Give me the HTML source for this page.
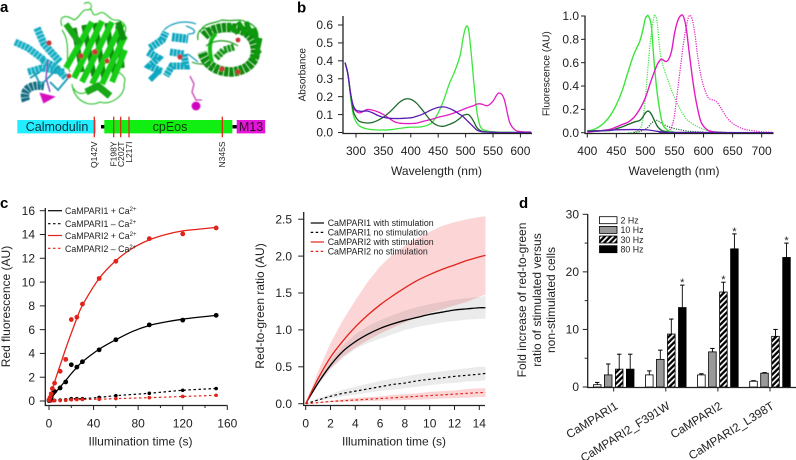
<!DOCTYPE html>
<html lang="en">
<head>
<meta charset="utf-8">
<title>CaMPARI2 figure</title>
<style>
html,body{margin:0;padding:0;background:#fff;}
svg{display:block;font-family:"Liberation Sans",sans-serif;filter:blur(0.3px);}
text{fill:#222;}
</style>
</head>
<body>
<svg id="figure" xmlns="http://www.w3.org/2000/svg" width="796" height="460" viewBox="0 0 796 460">
<defs>
<filter id="soft" x="-5%" y="-5%" width="110%" height="110%"><feGaussianBlur stdDeviation="0.5"/></filter>
<pattern id="hatch" patternUnits="userSpaceOnUse" width="4" height="4" patternTransform="rotate(45)">
<rect width="4" height="4" fill="#000"/><rect width="1.7" height="4" fill="#fff"/>
</pattern>
</defs>
<rect width="796" height="460" fill="#fff"/>

<text x="0" y="12" font-size="15" font-weight="bold" style="fill:#000">a</text>
<text x="297" y="12.5" font-size="15" font-weight="bold" style="fill:#000">b</text>
<text x="0" y="208" font-size="15" font-weight="bold" style="fill:#000">c</text>
<text x="519" y="208" font-size="15" font-weight="bold" style="fill:#000">d</text>

<g filter="url(#soft)" fill="none" stroke-linecap="butt">
<path d="M62 26C58 16 66 14 74 20C80 18 82 8 88 10C94 6 90 18 98 14C106 8 108 22 118 20C128 24 128 32 120 38M62 30C72 44 64 60 70 72M72 84C74 100 88 108 100 102C112 106 126 94 124 84C128 76 118 72 114 70M96 84C88 94 78 98 72 86M84 4C88 0 94 4 90 10" stroke="#28c028" stroke-width="1.1"/>
<path d="M74 28L82 72M84 25L94 76M95 23L104 78M107 23L115 76M118 26L122 68" stroke="#0a8a0a" stroke-width="5.4"/>
<path d="M92 22L66 68M102 21L74 78M112 22L82 82M122 24L92 84M125 36L102 84M125 50L112 82" stroke="#16cc16" stroke-width="6"/>
<path d="M66 24L80 44" stroke="#12a812" stroke-width="6"/>
<path d="M118 22L124 40" stroke="#0d8f0d" stroke-width="6"/>
<path d="M86 92L98 86L110 96" stroke="#14a814" stroke-width="7"/>
<path d="M37 28L44 44L60 62" stroke="#12aec4" stroke-width="7.5" stroke-dasharray="3.2 0.6"/>
<path d="M15 42L28 48L44 60" stroke="#12aec4" stroke-width="7" stroke-dasharray="3.2 0.6"/>
<path d="M28 72L42 68L64 72" stroke="#12aec4" stroke-width="7" stroke-dasharray="3.2 0.6"/>
<path d="M42 60L54 66L66 78" stroke="#12aec4" stroke-width="7" stroke-dasharray="3.2 0.6"/>
<path d="M26 101C22 90 30 84 44 86" stroke="#156e82" stroke-width="8.5" stroke-dasharray="3.2 0.7"/>
<path d="M34 72L42 88M50 82L58 90L68 78M42 84L60 66M30 78L40 72" stroke="#149cb4" stroke-width="1.8"/>
<path d="M48 60L46 78L50 92" stroke="#7a4ac0" stroke-width="1.4"/>
<path d="M41 94L53 97L44 102Z" fill="#d80cc0" stroke="#d80cc0" stroke-width="2"/>
<circle cx="49" cy="43" r="2.6" fill="#c83838"/><circle cx="81" cy="56" r="2.6" fill="#c83838"/><circle cx="95" cy="52" r="2.9" fill="#c83838"/><circle cx="107" cy="61" r="2.5" fill="#c83838"/><circle cx="69" cy="76" r="2.4" fill="#c83838"/>
</g>

<g filter="url(#soft)" fill="none">
<path d="M200 32C204 22 214 24 222 20C232 22 240 18 246 22C254 24 258 30 258 36M198 40C196 28 206 26 212 30" stroke="#18a018" stroke-width="1.2"/>
<path d="M204 36C216 24 244 24 253 40C260 56 252 70 232 72C218 72 206 66 202 52" stroke="#0c8a0c" stroke-width="9.5" stroke-dasharray="4.2 0.8"/>
<path d="M228 25L238 33M238 22L246 34M246 22L252 36M254 28L257 42M260 38L257 52M260 50L252 60" stroke="#0e980e" stroke-width="5"/>
<path d="M212 62C208 48 210 38 216 34" stroke="#18ba18" stroke-width="4"/>
<path d="M216 58L224 50L234 47" stroke="#129412" stroke-width="7" stroke-dasharray="3 0.8"/>
<path d="M192 62C200 66 204 62 210 66L224 70M206 46C214 40 226 38 238 46" stroke="#1a9a1a" stroke-width="1.2"/>
<path d="M150 48L162 40L166 32" stroke="#10a8c0" stroke-width="7.5" stroke-dasharray="3 0.6"/>
<path d="M172 37L188 39" stroke="#10a8c0" stroke-width="8.5" stroke-dasharray="3 0.6"/>
<path d="M148 52L158 58L150 66L162 72" stroke="#10a8c0" stroke-width="7.5" stroke-dasharray="3 0.6"/>
<path d="M170 52L184 54L186 66L172 66L166 76" stroke="#10a8c0" stroke-width="7" stroke-dasharray="3 0.6"/>
<path d="M150 80L160 70" stroke="#10a8c0" stroke-width="5.5"/>
<path d="M164 30C172 22 186 20 196 24M186 26C198 30 196 34 188 34M188 54L198 62" stroke="#149cb8" stroke-width="1.2"/>
<path d="M190 76L194 84L192 92L196 100L202 100" stroke="#c83cb8" stroke-width="1.3"/>
<circle cx="196" cy="106" r="4.4" fill="#d000c0"/>
<circle cx="238" cy="40" r="2.4" fill="#c83838"/><circle cx="180" cy="57" r="2.6" fill="#c83838"/><circle cx="222" cy="69" r="2.5" fill="#c83838"/><circle cx="238" cy="72" r="2.5" fill="#c83838"/>
</g>

<g>
<rect x="17.3" y="120" width="78.5" height="13.4" fill="#22eeff"/>
<rect x="101" y="125" width="4" height="3.5" fill="#000"/>
<rect x="104.3" y="120" width="128" height="13.4" fill="#11ee11"/>
<rect x="232.5" y="125" width="4.5" height="3.5" fill="#000"/>
<rect x="236.7" y="120" width="28.5" height="13.4" fill="#e414d8"/>
<text x="57" y="131" font-size="12.5" text-anchor="middle" style="fill:#0b3038">Calmodulin</text>
<text x="170" y="131" font-size="12.5" text-anchor="middle" style="fill:#0b3a0b">cpEos</text>
<text x="251" y="131" font-size="12.5" text-anchor="middle" style="fill:#30082c">M13</text>
<g stroke="#e0281e" stroke-width="1.3">
<line x1="94.3" x2="94.3" y1="116.7" y2="137.3"/>
<line x1="113.7" x2="113.7" y1="116.7" y2="137.3"/>
<line x1="120.7" x2="120.7" y1="116.7" y2="137.3"/>
<line x1="129" x2="129" y1="116.7" y2="137.3"/>
<line x1="222.3" x2="222.3" y1="116.7" y2="137.3"/>
</g>
<g font-size="8.5" text-anchor="end">
<text transform="translate(97.2,141.5) rotate(-90)">Q142V</text>
<text transform="translate(116.6,141.5) rotate(-90)">F198Y</text>
<text transform="translate(123.8,141.5) rotate(-90)">C202T</text>
<text transform="translate(132,141.5) rotate(-90)">L217I</text>
<text transform="translate(225.2,141.5) rotate(-90)">N345S</text>
</g>
</g>

<g id="absorbance-chart">
<text transform="translate(305.5,74.7) rotate(-90)" font-size="10" text-anchor="middle">Absorbance</text>
<text x="436.5" y="175" font-size="12" text-anchor="middle">Wavelength (nm)</text>
</g>
<g id="fluorescence-chart">
<text transform="translate(549.5,73.7) rotate(-90)" font-size="10.2" text-anchor="middle">Fluorescence (AU)</text>
<text x="674" y="175" font-size="12" text-anchor="middle">Wavelength (nm)</text>
</g>

<g id="red-chart">
<text transform="translate(10,306.5) rotate(-90)" font-size="12" text-anchor="middle">Red fluorescence (AU)</text>
<text x="140.5" y="445.5" font-size="12" text-anchor="middle">Illumination time (s)</text>
</g>
<g font-size="8.8">
<line x1="48" x2="62" y1="210.7" y2="210.7" stroke="#000" stroke-width="1.2"/>
<text x="65" y="214">CaMPARI1 + Ca<tspan font-size="6" dy="-3">2+</tspan></text>
<line x1="48" x2="62" y1="223.7" y2="223.7" stroke="#000" stroke-width="1.2" stroke-dasharray="2.5 2.5"/>
<text x="65" y="227">CaMPARI1 – Ca<tspan font-size="6" dy="-3">2+</tspan></text>
<line x1="48" x2="62" y1="235.5" y2="235.5" stroke="#e2231a" stroke-width="1.2"/>
<text x="65" y="239">CaMPARI2 + Ca<tspan font-size="6" dy="-3">2+</tspan></text>
<line x1="48" x2="62" y1="248.3" y2="248.3" stroke="#e2231a" stroke-width="1.2" stroke-dasharray="2.5 2.5"/>
<text x="65" y="252">CaMPARI2 – Ca<tspan font-size="6" dy="-3">2+</tspan></text>
</g>

<g id="ratio-chart">
<text transform="translate(264,306) rotate(-90)" font-size="12" text-anchor="middle">Red-to-green ratio (AU)</text>
<text x="394" y="445.5" font-size="12" text-anchor="middle">Illumination time (s)</text>
</g>
<g id="ratio-legend" font-size="8.8">
<line x1="310.7" x2="324" y1="223" y2="223" stroke="#000" stroke-width="1.2"/>
<text x="327.7" y="226">CaMPARI1 with stimulation</text>
<line x1="310.7" x2="324" y1="232.4" y2="232.4" stroke="#000" stroke-width="1.2" stroke-dasharray="2.5 2.5"/>
<text x="327.7" y="235.4">CaMPARI1 no stimulation</text>
<line x1="310.7" x2="324" y1="242" y2="242" stroke="#e2231a" stroke-width="1.2"/>
<text x="327.7" y="245">CaMPARI2 with stimulation</text>
<line x1="310.7" x2="324" y1="251.4" y2="251.4" stroke="#e2231a" stroke-width="1.2" stroke-dasharray="2.5 2.5"/>
<text x="327.7" y="254.4">CaMPARI2 no stimulation</text>
</g>

<g id="bar-chart">
<g font-size="12" text-anchor="middle">
<text transform="translate(526,300) rotate(-90)">Fold increase of red-to-green</text>
<text transform="translate(541,300) rotate(-90)">ratio of stimulated versus</text>
<text transform="translate(555,300) rotate(-90)">non-stimulated cells</text>
</g>
</g>
<g font-size="8.8">
<rect x="599.5" y="216.7" width="17.5" height="7" fill="#fff" stroke="#000" stroke-width="0.8"/>
<text x="620.5" y="223.5">2 Hz</text>
<rect x="599.5" y="226.4" width="17.5" height="7" fill="#999" stroke="#000" stroke-width="0.8"/>
<text x="620.5" y="233.2">10 Hz</text>
<rect x="599.5" y="236" width="17.5" height="7" fill="url(#hatch)" stroke="#000" stroke-width="0.8"/>
<text x="620.5" y="242.8">30 Hz</text>
<rect x="599.5" y="245.7" width="17.5" height="7" fill="#000" stroke="#000" stroke-width="0.8"/>
<text x="620.5" y="252.5">80 Hz</text>
</g>

<script>
/* ---------- Panel b, absorbance ---------- */
const absTickLabelsX = ['300','350','400','450','500','550','600'];
const absTickValuesX = [300,350,400,450,500,550,600];
const absTickLabelsY = ['0.0','0.1','0.2','0.3','0.4','0.5','0.6'];
const absTickValuesY = [0,0.1,0.2,0.3,0.4,0.5,0.6];
const absWavelengths = [280,285,290,295,300,305,310,320,330,340,350,360,370,380,390,400,410,420,430,440,450,460,470,480,490,495,500,505,510,515,520,525,530,540,550,560,570,580,590,600,620];
const absBrightGreen = [.39,.33,.2,.1,.06,.04,.03,.02,.016,.014,.014,.015,.018,.023,.027,.03,.03,.032,.04,.06,.11,.18,.27,.34,.43,.52,.585,.58,.45,.28,.13,.05,.02,.008,.004,.002,.001,.001,0,0,0];
const absDarkGreen = [.39,.33,.22,.12,.085,.065,.058,.053,.056,.068,.085,.11,.14,.17,.187,.185,.165,.13,.09,.055,.038,.035,.045,.058,.08,.095,.1,.1,.085,.06,.03,.015,.007,.003,.001,0,0,0,0,0,0];
const absMagenta = [.39,.33,.22,.14,.12,.11,.112,.128,.125,.115,.1,.08,.06,.052,.05,.05,.052,.06,.068,.075,.085,.092,.1,.11,.122,.128,.135,.14,.145,.15,.158,.16,.158,.15,.175,.22,.19,.06,.015,.005,.002];
const absPurple = [.39,.33,.22,.15,.125,.12,.118,.12,.11,.095,.085,.08,.078,.078,.08,.082,.09,.1,.115,.13,.14,.143,.135,.12,.1,.09,.075,.06,.045,.03,.015,.008,.004,.002,.001,0,0,0,0,0,0];

/* ---------- Panel b, emission ---------- */
const fluTickLabelsX = ['400','450','500','550','600','650','700'];
const fluTickValuesX = [400,450,500,550,600,650,700];
const fluTickLabelsY = ['0.0','0.2','0.4','0.6','0.8','1.0'];
const fluTickValuesY = [0,0.2,0.4,0.6,0.8,1];
const greenSolidX = [400,410,420,430,440,450,460,470,480,490,495,500,503,505,510,515,520,525,530,535,540,550];
const greenSolidY = [.015,.025,.05,.09,.15,.24,.36,.52,.67,.78,.87,.98,1,1,.92,.6,.35,.18,.07,.035,.015,.005];
const greenDotX = [470,480,490,495,500,505,510,515,517,520,525,530,540,550,560,570,580,590,600,610,620,640];
const greenDotY = [0,.004,.03,.1,.3,.6,.85,1,1,.95,.7,.58,.43,.3,.2,.12,.08,.05,.03,.015,.01,.003];
const magentaSolidX = [400,420,440,450,460,470,480,490,500,510,520,525,528,535,540,545,550,555,560,565,570,575,580,585,590,595,600,605,610,620,640];
const magentaSolidY = [.005,.015,.03,.05,.07,.09,.13,.2,.3,.45,.58,.62,.63,.61,.63,.7,.85,.95,1,1,.9,.7,.5,.33,.2,.1,.055,.03,.015,.005,0];
const magentaDotX = [530,540,545,550,555,560,565,570,575,580,585,590,595,600,605,610,620,625,630,640,650,660,670,680,700,720];
const magentaDotY = [.005,.02,.05,.15,.35,.55,.75,.9,1,.98,.85,.65,.5,.4,.33,.29,.275,.25,.21,.13,.08,.05,.03,.02,.008,.003];
const darkSolidX = [400,440,450,460,470,480,490,495,500,505,510,515,520,525,530,540];
const darkSolidY = [.015,.02,.035,.05,.07,.09,.105,.13,.17,.185,.16,.11,.06,.03,.015,.005];
const darkDotX = [480,490,500,505,510,515,520,525,530,540,550,560,570,580,600];
const darkDotY = [.002,.01,.03,.05,.08,.1,.105,.09,.075,.05,.035,.025,.015,.01,.005];
const purpleSolidX = [400,420,440,460,480,500,510,520,530,540,720];
const purpleSolidY = [.01,.015,.022,.026,.027,.025,.02,.012,.006,.003,0];

/* ---------- Panel c, red fluorescence ---------- */
const redTickValuesX = [0,40,80,120,160];
const redTickLabelsX = ['0','40','80','120','160'];
const redMinorX = [20,60,100,140];
const redTickValuesY = [0,2,4,6,8,10,12,14,16];
const redTickLabelsY = ['0','2','4','6','8','10','12','14','16'];
const redTimes = [0,1,2,3,5,10,15,20,25,30,45,60,90,120,150];
const campari1Ca = [.05,.15,.3,.6,.8,1.1,1.6,3.05,2.85,3.3,4.3,5.15,6.4,6.8,7.2];
const campari1NoCa = [0,.02,.03,.04,.05,.08,.1,.2,.2,.2,.3,.45,.65,.9,1.05];
const campari2Ca = [.1,.3,.6,1.05,1.5,2.5,3.5,6.85,7.05,8.15,10.3,11.75,13.65,14.05,14.55];
const campari2NoCa = [0,0,.01,.02,.03,.04,.06,.1,.12,.13,.15,.2,.28,.38,.48];
const fitTimes = [0,5,10,15,20,25,30,45,60,75,90,105,120,135,150];
const fitCampari1 = [0,.6,1.18,1.72,2.3,2.82,3.3,4.35,5.15,5.85,6.35,6.65,6.88,7.05,7.2];
const fitCampari2 = [0,1.6,3,4.4,5.7,6.95,8.05,10.3,11.8,12.85,13.55,14,14.3,14.45,14.6];

/* ---------- Panel c, ratio ---------- */
const ratTickValuesX = [0,2,4,6,8,10,12,14];
const ratTickLabelsX = ['0','2','4','6','8','10','12','14'];
const ratTickValuesY = [0,.5,1,1.5,2,2.5];
const ratTickLabelsY = ['0.0','0.5','1.0','1.5','2.0','2.5'];
const ratTimes = [0,1,2,3,4,5,6,7,8,9,10,11,12,13,14,14.5];
const stim1Mean = [0,.28,.52,.71,.84,.94,1.02,1.08,1.13,1.17,1.21,1.24,1.27,1.285,1.3,1.3];
const stim1Upper = [0,.32,.59,.79,.94,1.05,1.13,1.2,1.26,1.31,1.35,1.38,1.41,1.43,1.45,1.46];
const stim1Lower = [0,.25,.46,.62,.74,.82,.88,.94,1,1.04,1.07,1.1,1.12,1.14,1.15,1.15];
const stim2Mean = [0,.34,.63,.85,1.04,1.2,1.34,1.46,1.57,1.67,1.75,1.82,1.88,1.94,1.99,2.01];
const stim2Upper = [0,.44,.82,1.13,1.4,1.65,1.86,2.02,2.14,2.24,2.33,2.41,2.46,2.5,2.53,2.54];
const stim2Lower = [0,.27,.48,.64,.76,.86,.95,1.03,1.1,1.17,1.23,1.28,1.33,1.38,1.45,1.48];
const noStim1Mean = [0,.05,.1,.14,.17,.2,.23,.26,.28,.31,.33,.35,.37,.385,.4,.41];
const noStim1Upper = [0,.07,.13,.19,.23,.27,.31,.34,.37,.4,.42,.44,.46,.48,.5,.5];
const noStim1Lower = [0,.04,.07,.1,.12,.15,.17,.19,.21,.23,.25,.27,.28,.3,.31,.32];
const noStim2Mean = [0,.015,.03,.04,.05,.06,.07,.08,.09,.1,.11,.12,.13,.14,.15,.15];
const noStim2Upper = [0,.02,.04,.06,.08,.09,.1,.12,.13,.14,.16,.17,.18,.2,.21,.21];
const noStim2Lower = [0,.01,.02,.025,.03,.035,.04,.045,.05,.055,.06,.07,.075,.08,.09,.09];

/* ---------- Panel d, bars ---------- */
const barCategories = ['CaMPARI1','CaMPARI2_F391W','CaMPARI2','CaMPARI2_L398T'];
const barTickValuesY = [0,10,20,30];
const barTickLabelsY = ['0','10','20','30'];
const barMinorY = [5,15,25];
const hz2 = [.4,2.1,2.1,1];
const hz10 = [2.1,4.8,6.1,2.4];
const hz30 = [3.1,9.2,16.5,8.8];
const hz80 = [3.1,13.8,24,22.5];
const hz2Top = [.8,2.8,2.3,1.1];
const hz10Top = [4,6.4,6.7,2.5];
const hz30Top = [5.7,11.8,18.2,10];
const hz80Top = [5.7,17.7,26.6,25];
const hz30Star = [false,false,true,false];
const hz80Star = [false,true,true,true];

/* ---------- Helpers ---------- */
const NS = 'http://www.w3.org/2000/svg';
const INK = '#222';
function make(tag, attrs, parent) {
  const el = document.createElementNS(NS, tag);
  for (const k in attrs) el.setAttribute(k, attrs[k]);
  parent.appendChild(el);
  return el;
}
function linear(d0, d1, r0, r1) { return v => r0 + (v - d0) * (r1 - r0) / (d1 - d0); }
function smoothPath(pts) {
  let d = 'M' + pts[0][0].toFixed(2) + ' ' + pts[0][1].toFixed(2);
  for (let i = 0; i < pts.length - 1; i++) {
    const p0 = pts[Math.max(i - 1, 0)], p1 = pts[i], p2 = pts[i + 1], p3 = pts[Math.min(i + 2, pts.length - 1)];
    d += 'C' + (p1[0] + (p2[0] - p0[0]) / 6).toFixed(2) + ' ' + (p1[1] + (p2[1] - p0[1]) / 6).toFixed(2) + ' ' +
      (p2[0] - (p3[0] - p1[0]) / 6).toFixed(2) + ' ' + (p2[1] - (p3[1] - p1[1]) / 6).toFixed(2) + ' ' +
      p2[0].toFixed(2) + ' ' + p2[1].toFixed(2);
  }
  return d;
}
function curve(parent, name, xs, ys, xf, yf, color, width, dash) {
  const pts = xs.map((x, i) => [xf(x), yf(ys[i])]);
  const p = make('path', {d: smoothPath(pts), fill: 'none', stroke: color, 'stroke-width': width, 'stroke-dasharray': dash || 'none'}, parent);
  
  
  return p;
}
function band(parent, name, xs, up, low, xf, yf, fill) {
  const top = xs.map((x, i) => xf(x).toFixed(2) + ' ' + yf(up[i]).toFixed(2));
  const bot = xs.map((x, i) => xf(x).toFixed(2) + ' ' + yf(low[i]).toFixed(2)).reverse();
  const p = make('path', {d: 'M' + top.join('L') + 'L' + bot.join('L') + 'Z', fill: fill, stroke: 'none'}, parent);
  
  
}
function dots(parent, name, xs, ys, xf, yf, color, r) {
  xs.forEach((x, i) => {
    const c = make('circle', {cx: xf(x), cy: yf(ys[i]), r: r, fill: color}, parent);
    
    
  });
}
function axisLine(parent, name, x1, y1, x2, y2) {
  const l = make('line', {x1, y1, x2, y2, stroke: INK, 'stroke-width': 1.3}, parent);
  
  
}
function xTicks(parent, prefix, values, labels, xf, axisY, len, labelY) {
  values.forEach((v, i) => {
    const t = make('line', {x1: xf(v), x2: xf(v), y1: axisY, y2: axisY + len, stroke: INK, 'stroke-width': 1}, parent);
    
    
    if (labels) {
      const s = make('text', {x: xf(v), y: labelY, 'font-size': 12, 'text-anchor': 'middle'}, parent);
      s.textContent = labels[i];
      
      
    }
  });
}
function yTicks(parent, prefix, values, labels, yf, axisX, len, labelX) {
  values.forEach((v, i) => {
    const t = make('line', {x1: axisX - len, x2: axisX, y1: yf(v), y2: yf(v), stroke: INK, 'stroke-width': 1}, parent);
    
    
    if (labels) {
      const s = make('text', {x: labelX, y: yf(v) + 4.2, 'font-size': 12, 'text-anchor': 'end'}, parent);
      s.textContent = labels[i];
      
      
    }
  });
}

const BRIGHT = '#3be63b', DARK = '#1c6a2c', MAG = '#e21cc4', PURPLE = '#5a1cb4', RED = '#e2231a';

/* Absorbance */
const absX = linear(300, 600, 356, 520.4);
const absY = linear(0, .6, 132.5, 25);
const gAbs = document.getElementById('absorbance-chart');
curve(gAbs, 'absorbance-curve-bright-green', absWavelengths, absBrightGreen, absX, absY, BRIGHT, 1.3);
curve(gAbs, 'absorbance-curve-magenta', absWavelengths, absMagenta, absX, absY, MAG, 1.3);
curve(gAbs, 'absorbance-curve-dark-green', absWavelengths, absDarkGreen, absX, absY, DARK, 1.3);
curve(gAbs, 'absorbance-curve-purple', absWavelengths, absPurple, absX, absY, PURPLE, 1.3);
axisLine(gAbs, 'absorbance-y-axis', 343, 16, 343, 133.5);
axisLine(gAbs, 'absorbance-x-axis', 342.4, 133.5, 532, 133.5);
xTicks(gAbs, 'absorbance', absTickValuesX, absTickLabelsX, absX, 133.5, 4, 155);
yTicks(gAbs, 'absorbance', absTickValuesY, absTickLabelsY, absY, 343, 5, 333);

/* Emission */
const fluX = linear(400, 700, 587.3, 761.7);
const fluY = linear(0, 1, 132.7, 16);
const gFlu = document.getElementById('fluorescence-chart');
curve(gFlu, 'emission-green-dotted', greenDotX, greenDotY, fluX, fluY, BRIGHT, 1.2, '1.2 1.2');
curve(gFlu, 'emission-magenta-dotted', magentaDotX, magentaDotY, fluX, fluY, MAG, 1.2, '1.2 1.2');
curve(gFlu, 'emission-dark-green-dotted', darkDotX, darkDotY, fluX, fluY, DARK, 1.2, '1.2 1.2');
curve(gFlu, 'emission-green-solid', greenSolidX, greenSolidY, fluX, fluY, BRIGHT, 1.4);
curve(gFlu, 'emission-magenta-solid', magentaSolidX, magentaSolidY, fluX, fluY, MAG, 1.4);
curve(gFlu, 'emission-dark-green-solid', darkSolidX, darkSolidY, fluX, fluY, DARK, 1.4);
curve(gFlu, 'emission-purple-solid', purpleSolidX, purpleSolidY, fluX, fluY, PURPLE, 1.3);
axisLine(gFlu, 'emission-y-axis', 585, 15.5, 585, 133.5);
axisLine(gFlu, 'emission-x-axis', 584.4, 133.5, 773.5, 133.5);
xTicks(gFlu, 'emission', fluTickValuesX, fluTickLabelsX, fluX, 133.5, 4, 155);
yTicks(gFlu, 'emission', fluTickValuesY, fluTickLabelsY, fluY, 585, 4, 579);

/* Red fluorescence */
const redX = linear(0, 160, 49, 227.3);
const redY = linear(0, 16, 401, 210.7);
const gRed = document.getElementById('red-chart');
curve(gRed, 'campari1-noca-line', redTimes, campari1NoCa, redX, redY, '#000', 1.2, '2.5 2.5');
curve(gRed, 'campari2-noca-line', redTimes, campari2NoCa, redX, redY, RED, 1.2, '2.5 2.5');
curve(gRed, 'campari1-ca-fit', fitTimes, fitCampari1, redX, redY, '#000', 1.3);
curve(gRed, 'campari2-ca-fit', fitTimes, fitCampari2, redX, redY, RED, 1.3);
dots(gRed, 'campari1-noca-point', redTimes, campari1NoCa, redX, redY, '#000', 1.8);
dots(gRed, 'campari2-noca-point', redTimes, campari2NoCa, redX, redY, RED, 1.8);
dots(gRed, 'campari1-ca-point', redTimes, campari1Ca, redX, redY, '#000', 2.4);
dots(gRed, 'campari2-ca-point', redTimes, campari2Ca, redX, redY, RED, 2.4);
axisLine(gRed, 'red-fluorescence-y-axis', 45.3, 208, 45.3, 405.5);
axisLine(gRed, 'red-fluorescence-x-axis', 44.7, 405.5, 227.5, 405.5);
xTicks(gRed, 'red-fluorescence', redTickValuesX, redTickLabelsX, redX, 405.5, 4.5, 427.5);
xTicks(gRed, 'red-fluorescence-minor', redMinorX, null, redX, 405.5, 2.5, 0);
yTicks(gRed, 'red-fluorescence', redTickValuesY, redTickLabelsY, redY, 45.3, 5.5, 35);

/* Ratio */
const ratX = linear(0, 14, 305.7, 479.3);
const ratY = linear(0, 2.5, 403.7, 219.2);
const gRat = document.getElementById('ratio-chart');
const PINK = 'rgba(237,28,36,.18)', GREY = 'rgba(0,0,0,.08)';
band(gRat, 'campari2-stim-error-band', ratTimes, stim2Upper, stim2Lower, ratX, ratY, PINK);
band(gRat, 'campari1-stim-error-band', ratTimes, stim1Upper, stim1Lower, ratX, ratY, GREY);
band(gRat, 'campari1-nostim-error-band', ratTimes, noStim1Upper, noStim1Lower, ratX, ratY, GREY);
band(gRat, 'campari2-nostim-error-band', ratTimes, noStim2Upper, noStim2Lower, ratX, ratY, PINK);
curve(gRat, 'campari1-nostim-line', ratTimes, noStim1Mean, ratX, ratY, '#000', 1.2, '2.5 2.5');
curve(gRat, 'campari2-nostim-line', ratTimes, noStim2Mean, ratX, ratY, RED, 1.2, '2.5 2.5');
curve(gRat, 'campari1-stim-line', ratTimes, stim1Mean, ratX, ratY, '#000', 1.3);
curve(gRat, 'campari2-stim-line', ratTimes, stim2Mean, ratX, ratY, RED, 1.3);
axisLine(gRat, 'ratio-y-axis', 303.7, 212, 303.7, 405.5);
axisLine(gRat, 'ratio-x-axis', 303.1, 405.5, 485, 405.5);
xTicks(gRat, 'ratio', ratTickValuesX, ratTickLabelsX, ratX, 405.5, 4.5, 427.5);
yTicks(gRat, 'ratio', ratTickValuesY, ratTickLabelsY, ratY, 303.7, 5.5, 292);

/* Bars */
const barY = linear(0, 30, 387, 214.3);
const groupX = linear(0, 3, 613.7, 770);
const slot = linear(0, 3, -16.5, 16.5);
const gBar = document.getElementById('bar-chart');
const barSeries = [
  {name: '2hz', vals: hz2, tops: hz2Top, fill: '#fff', stars: null},
  {name: '10hz', vals: hz10, tops: hz10Top, fill: '#999', stars: null},
  {name: '30hz', vals: hz30, tops: hz30Top, fill: 'url(#hatch)', stars: hz30Star},
  {name: '80hz', vals: hz80, tops: hz80Top, fill: '#000', stars: hz80Star}
];
const BAR_W = 7.6;
barSeries.forEach((s, j) => {
  s.vals.forEach((v, i) => {
    const cx = groupX(i) + slot(j);
    const err = make('line', {x1: cx, x2: cx, y1: barY(v), y2: barY(s.tops[i]), stroke: '#000', 'stroke-width': 0.9}, gBar);
    
    
    const cap = make('line', {x1: cx - 2.2, x2: cx + 2.2, y1: barY(s.tops[i]), y2: barY(s.tops[i]), stroke: '#000', 'stroke-width': 1}, gBar);
    
    
    const r = make('rect', {x: cx - BAR_W / 2, y: barY(v), width: BAR_W, height: barY(0) - barY(v), fill: s.fill, stroke: '#000', 'stroke-width': 0.8}, gBar);
    
    
    if (s.stars && s.stars[i]) {
      const st = make('text', {x: cx, y: barY(s.tops[i]) + 1, 'font-size': 11, 'text-anchor': 'middle'}, gBar);
      st.textContent = '*';
      
      
    }
  });
});
axisLine(gBar, 'bar-y-axis', 587.7, 214, 587.7, 387.5);
axisLine(gBar, 'bar-x-axis', 587.1, 387.5, 796, 387.5);
yTicks(gBar, 'bar', barTickValuesY, barTickLabelsY, barY, 587.7, 5, 579);
yTicks(gBar, 'bar-minor', barMinorY, null, barY, 587.7, 3, 0);
barCategories.forEach((c, i) => {
  const x = groupX(i);
  const t = make('line', {x1: x, x2: x, y1: 387.5, y2: 391.5, stroke: INK, 'stroke-width': 1}, gBar);
  
  
  const s = make('text', {transform: 'translate(' + (x + 5) + ',408) rotate(-32)', 'font-size': 11.8, 'text-anchor': 'end'}, gBar);
  s.textContent = c;
  
  
});
</script>
</svg>
</body>
</html>
